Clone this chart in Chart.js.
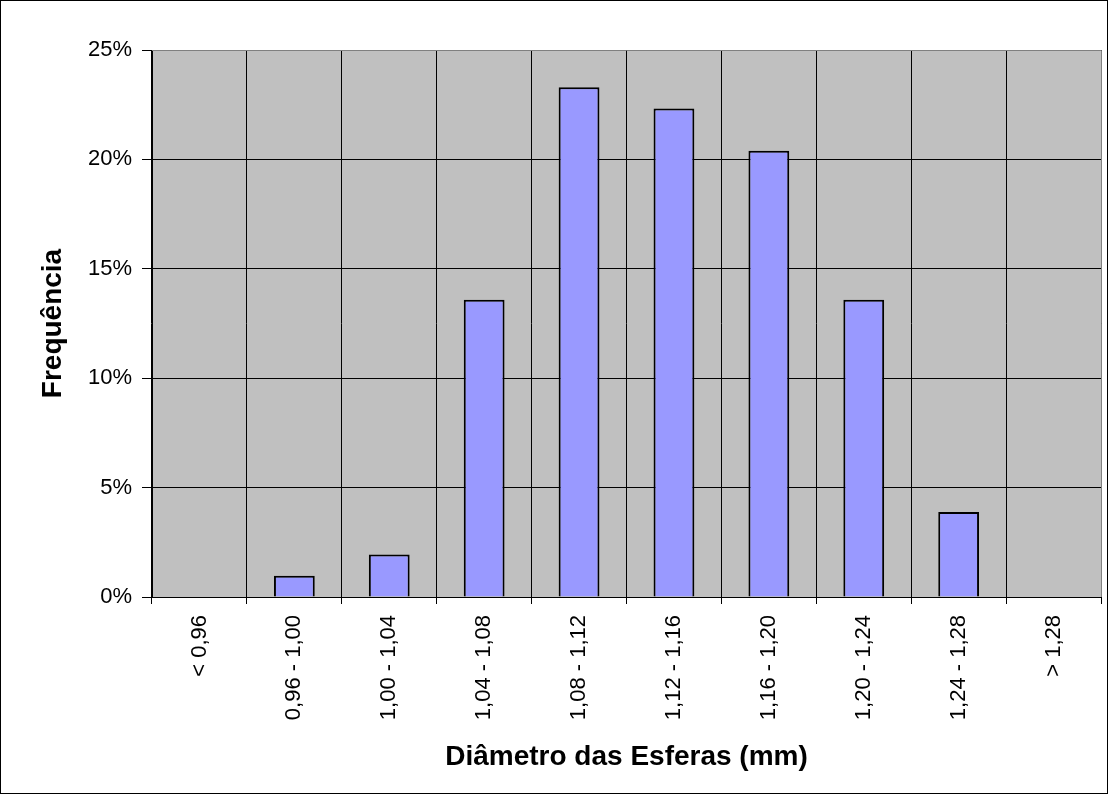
<!DOCTYPE html>
<html>
<head>
<meta charset="utf-8">
<script src="https://cdn.jsdelivr.net/npm/chart.js@4"></script>
<style>
html,body{margin:0;padding:0;background:#fff;}
#wrap{width:1108px;height:794px;position:relative;}
</style>
</head>
<body>
<div id="wrap"><canvas id="c" width="1108" height="794"></canvas></div>
<script>
const categories = ["< 0,96","0,96 - 1,00","1,00 - 1,04","1,04 - 1,08","1,08 - 1,12","1,12 - 1,16","1,16 - 1,20","1,20 - 1,24","1,24 - 1,28","> 1,28"];
const frequencies = [0, 0.97, 1.94, 13.59, 23.30, 22.33, 20.39, 13.59, 3.88, 0];
const yTicks = [0, 5, 10, 15, 20, 25];
const xTitle = "Diâmetro das Esferas (mm)";
const yTitle = "Frequência";

const FONT = "'Liberation Sans', Arial, sans-serif";

const bgPlugin = {
  id: 'bg',
  beforeDraw(chart) {
    const {ctx, chartArea: a} = chart;
    ctx.save();
    ctx.fillStyle = '#fff';
    ctx.fillRect(0, 0, chart.width, chart.height);
    ctx.fillStyle = '#C0C0C0';
    ctx.fillRect(a.left, a.top, a.right - a.left, a.bottom - a.top);
    ctx.restore();
  },
  afterDraw(chart) {
    const {ctx, chartArea: a} = chart;
    ctx.save();
    ctx.strokeStyle = '#808080';
    ctx.lineWidth = 1;
    ctx.beginPath();
    ctx.moveTo(a.left, a.top + 0.5);
    ctx.lineTo(a.right + 0.5, a.top + 0.5);
    ctx.lineTo(a.right + 0.5, a.bottom);
    ctx.stroke();
    ctx.strokeStyle = '#000';
    ctx.strokeRect(0.5, 0.5, chart.width - 1, chart.height - 1);
    ctx.restore();
  }
};

new Chart(document.getElementById('c'), {
  type: 'bar',
  data: {
    labels: categories,
    datasets: [{
      data: frequencies,
      backgroundColor: '#9999FF',
      borderColor: '#000',
      borderWidth: 2,
      barPercentage: 0.43,
      categoryPercentage: 1
    }]
  },
  plugins: [bgPlugin],
  options: {
    responsive: false,
    animation: false,
    devicePixelRatio: 1,
    layout: { padding: { top: 50, right: 7, left: 0, bottom: 0 } },
    plugins: { legend: { display: false }, tooltip: { enabled: false } },
    scales: {
      x: {
        grid: { color: '#000', lineWidth: 1, offset: true, tickLength: 7, drawTicks: true },
        border: { color: '#000', width: 1 },
        ticks: { color: '#000', font: { family: FONT, size: 22 }, minRotation: 90, maxRotation: 90, padding: 11, autoSkip: false },
        title: { display: true, text: xTitle, color: '#000', font: { family: FONT, size: 28, weight: 'bold' }, padding: { top: 0, bottom: 20 } },
        afterFit(s) { s.height = 794 - 597; }
      },
      y: {
        min: 0, max: 25,
        afterBuildTicks(s) { s.ticks = yTicks.map(v => ({ value: v })); },
        grid: { color: '#000', lineWidth: 1, tickLength: 10 },
        border: { color: '#000', width: 1 },
        ticks: { color: '#000', font: { family: FONT, size: 22 }, padding: 10, callback: v => v + '%' },
        title: { display: true, text: yTitle, color: '#000', font: { family: FONT, size: 28, weight: 'bold' }, padding: { top: 36, bottom: 0 } },
        afterFit(s) { s.width = 152; }
      }
    }
  }
});
</script>
</body>
</html>
